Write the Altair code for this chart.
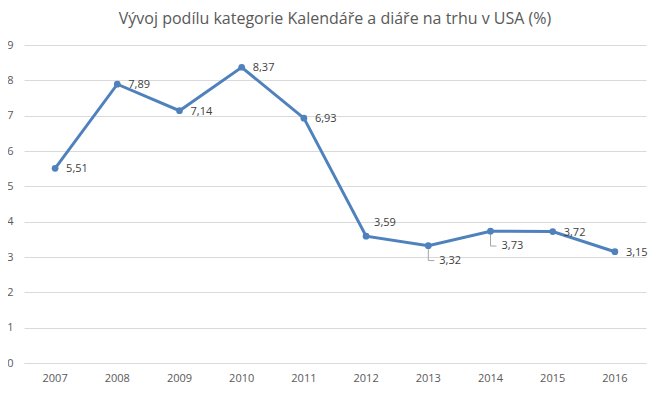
import altair as alt
import pandas as pd

years = ["2007", "2008", "2009", "2010", "2011", "2012", "2013", "2014", "2015", "2016"]
values = [5.51, 7.89, 7.14, 8.37, 6.93, 3.59, 3.32, 3.73, 3.72, 3.15]
labels = ["5,51", "7,89", "7,14", "8,37", "6,93", "3,59", "3,32", "3,73", "3,72", "3,15"]
y_ticks = [0, 1, 2, 3, 4, 5, 6, 7, 8, 9]

right_years = ["2007", "2008", "2009", "2010", "2011", "2015", "2016"]
above_years = ["2012"]
below_years = ["2013", "2014"]

df = pd.DataFrame({"year": years, "value": values, "label": labels})

FONT = "Open Sans"
BLUE = "#4f81bd"

x_scale = alt.Scale(paddingInner=0, paddingOuter=0)
x_axis = alt.Axis(labelAngle=0, labelFont=FONT, labelFontSize=11, labelColor="#595959",
                  domainColor="#d9d9d9", ticks=False, labelPadding=9, grid=False)
y_scale = alt.Scale(domain=[0, 9], nice=False)
y_axis = alt.Axis(values=y_ticks, labelFont=FONT, labelFontSize=11, labelColor="#595959",
                  domain=False, ticks=False, labelPadding=11, gridColor="#d9d9d9",
                  format="d")

x = alt.X("year:N", sort=years, title=None, scale=x_scale, axis=x_axis)
y = alt.Y("value:Q", title=None, scale=y_scale, axis=y_axis)

base = alt.Chart(df).encode(x=x, y=y)

line = base.mark_line(color=BLUE, strokeWidth=3)
pts = base.mark_point(color=BLUE, filled=True, size=45, opacity=1)

txt_kw = dict(font=FONT, fontSize=11, color="#404040", align="left", baseline="middle")
t_right = base.mark_text(dx=11, dy=1, **txt_kw).encode(text="label:N").transform_filter(
    alt.FieldOneOfPredicate(field="year", oneOf=right_years))
t_above = base.mark_text(dx=8, dy=-13, **txt_kw).encode(text="label:N").transform_filter(
    alt.FieldOneOfPredicate(field="year", oneOf=above_years))
t_below = base.mark_text(dx=11, dy=15, **txt_kw).encode(text="label:N").transform_filter(
    alt.FieldOneOfPredicate(field="year", oneOf=below_years))

below = alt.Chart(df).transform_filter(
    alt.FieldOneOfPredicate(field="year", oneOf=below_years)).transform_calculate(
    y2="datum.value - 0.42")
lead_v = below.mark_rule(color="#a6a6a6", strokeWidth=1).encode(
    x=x, y=y, y2="y2:Q")
lead_h = below.mark_rule(color="#a6a6a6", strokeWidth=1, x2Offset=6).encode(
    x=x, x2=alt.X2("year:N"),
    y=alt.Y("y2:Q", title=None, scale=y_scale, axis=y_axis))

chart = alt.layer(line, lead_v, lead_h, pts, t_right, t_above, t_below).properties(
    width=622, height=318,
    autosize=alt.AutoSizeParams(type="none"),
    padding={"left": 16, "top": 37, "right": 6, "bottom": 23},
    title=alt.TitleParams("Vývoj podílu kategorie Kalendáře a diáře na trhu v USA (%)",
                          font=FONT, fontSize=16, fontWeight="normal", color="#595959",
                          anchor="middle", offset=12),
).configure_view(stroke=None)

chart.save("out.html", embed_options={"renderer": "svg", "actions": False})
